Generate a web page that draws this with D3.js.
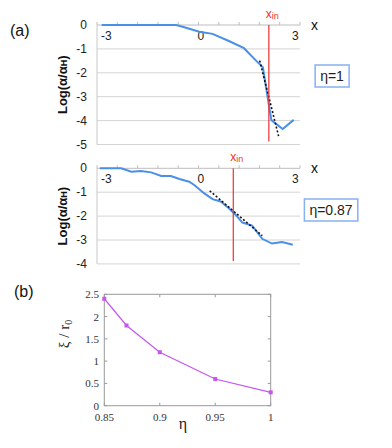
<!DOCTYPE html>
<html>
<head>
<meta charset="utf-8">
<script src="https://cdn.jsdelivr.net/npm/d3@7"></script>
<style>
  body { margin: 0; background: #fff; }
  svg { display: block; }
</style>
</head>
<body>
<div id="chart"></div>
<script>
// ---- data ----
// panel (a) upper: eta = 1
const curve1X = [-3.15, -2.4, -1.6, -0.79, -0.58, -0.05, 0.37, 0.89, 1.37, 1.73, 1.97, 2.1, 2.24, 2.6, 2.95];
const curve1Y = [0, 0, 0, 0, -0.07, -0.28, -0.37, -0.67, -0.97, -1.46, -1.77, -2.85, -3.98, -4.35, -3.97];
const fit1 = [[1.87, -1.49], [2.47, -4.65]];
const xin1 = 2.16;

// panel (a) lower: eta = 0.87
const curve2X = [-3.21, -2.53, -2.21, -1.9, -1.58, -1.26, -0.95, -0.68, -0.37, -0.21, 0.1, 0.37, 0.63, 0.89, 1.1, 1.32, 1.63, 1.95, 2.26, 2.58, 2.92];
const curve2Y = [0, 0, -0.14, -0.11, -0.17, -0.32, -0.32, -0.45, -0.56, -0.7, -1.04, -1.29, -1.39, -1.67, -1.94, -2.27, -2.4, -2.95, -3.15, -3.08, -3.2];
const fit2 = [[0.28, -0.94], [1.95, -2.82]];
const xin2 = 1.03;

const xTickLabels = [-3, 0, 3];

// panel (b)
const etaVals = [0.85, 0.87, 0.9, 0.95, 1];
const xiVals = [2.4, 1.8, 1.2, 0.6, 0.3];
const etaTicks = [0.85, 0.9, 0.95, 1];
const xiTicks = [0, 0.5, 1, 1.5, 2, 2.5];

const width = 392;
const height = 448;

const svg = d3.select('#chart').append('svg').attr('width', width).attr('height', height);

const sansFont = "'Liberation Sans', Arial, sans-serif";
const serifFont = "'Liberation Serif', 'Times New Roman', serif";
const blue = '#4a8fe8';

// ---- panel (a): two log plots ----
function drawLogPanel(opts) {
	const { top, yMin, xs, ys, fit, xin, tag } = opts;
	const x = d3.scaleLinear().domain([-3.3, 3.15]).range([97, 300]);
	const y = d3.scaleLinear().domain([yMin, 0]).range([top + (-yMin) * 23.9, top]);
	const g = svg.append('g');

	// grid lines
	g.selectAll('.grid')
		.data(d3.range(yMin, 0))
		.enter()
		.append('line')
		.attr('x1', x.range()[0])
		.attr('x2', x.range()[1])
		.attr('y1', (d) => y(d))
		.attr('y2', (d) => y(d))
		.attr('stroke', '#d4d4d4')
		.attr('stroke-width', 1);

	// left axis line
	g.append('line')
		.attr('x1', x.range()[0]).attr('x2', x.range()[0])
		.attr('y1', y(0)).attr('y2', y(yMin))
		.attr('stroke', '#c8c8c8');

	// x axis at y = 0 with small tick marks
	g.append('line')
		.attr('x1', x.range()[0]).attr('x2', x.range()[1])
		.attr('y1', y(0)).attr('y2', y(0))
		.attr('stroke', '#bdbdbd');
	const step = (x.domain()[1] - x.domain()[0]) / 10;
	g.selectAll('.tk')
		.data(d3.range(0, 11).map((i) => x.domain()[0] + i * step))
		.enter()
		.append('line')
		.attr('x1', (d) => x(d)).attr('x2', (d) => x(d))
		.attr('y1', y(0) - 3).attr('y2', y(0))
		.attr('stroke', '#bdbdbd');

	// x tick labels
	g.selectAll('.xl')
		.data(xTickLabels)
		.enter()
		.append('text')
		.attr('x', (d) => x(d))
		.attr('y', y(0) + 15)
		.attr('text-anchor', 'middle')
		.attr('font-family', sansFont)
		.attr('font-size', 12)
		.attr('fill', '#222')
		.text((d) => d);

	// y tick labels
	g.selectAll('.yl')
		.data(d3.range(yMin, 1))
		.enter()
		.append('text')
		.attr('x', 87)
		.attr('y', (d) => y(d) + 4)
		.attr('text-anchor', 'end')
		.attr('font-family', sansFont)
		.attr('font-size', 12)
		.attr('fill', '#222')
		.text((d) => d);

	// y axis title
	const yt = g.append('text')
		.attr('transform', `translate(67, ${(y(0) + y(yMin)) / 2}) rotate(-90)`)
		.attr('text-anchor', 'middle')
		.attr('font-family', sansFont)
		.attr('font-size', 13)
		.attr('font-weight', 'bold')
		.attr('fill', '#111');
	yt.append('tspan').text('Log(α/α');
	yt.append('tspan').attr('font-size', 9).text('H');
	yt.append('tspan').text(')');

	// "x" axis name
	g.append('text')
		.attr('x', 311)
		.attr('y', y(0) + 5)
		.attr('font-family', sansFont)
		.attr('font-size', 14)
		.attr('fill', '#111')
		.text('x');

	// data curve
	const line = d3.line().x((d) => x(d[0])).y((d) => y(d[1]));
	g.append('path')
		.datum(xs.map((v, i) => [v, ys[i]]))
		.attr('d', line)
		.attr('fill', 'none')
		.attr('stroke', blue)
		.attr('stroke-width', 2);

	// fitted dotted line
	g.append('path')
		.datum(fit)
		.attr('d', line)
		.attr('fill', 'none')
		.attr('stroke', '#111')
		.attr('stroke-width', 1.6)
		.attr('stroke-dasharray', '2,2');

	// x_in marker
	g.append('line')
		.attr('x1', x(xin)).attr('x2', x(xin))
		.attr('y1', y(0)).attr('y2', y(yMin) - 3)
		.attr('stroke', '#f03030')
		.attr('stroke-width', 1.2);
	const xl = g.append('text')
		.attr('x', x(xin) - 3)
		.attr('y', y(0) - 7)
		.attr('font-family', sansFont)
		.attr('font-size', 12)
		.attr('fill', '#f03030');
	xl.append('tspan').text('x');
	xl.append('tspan').attr('font-size', 9).attr('dy', 1).text('in');

	// eta tag box
	const tg = g.append('g');
	const tx = tg.append('text')
		.attr('x', tag.cx)
		.attr('y', tag.cy + 5)
		.attr('text-anchor', 'middle')
		.attr('font-family', sansFont)
		.attr('font-size', 14)
		.attr('fill', '#222')
		.text(tag.label);
	const bb = tx.node().getBBox();
	tg.insert('rect', 'text')
		.attr('x', bb.x - 5)
		.attr('y', tag.cy - 11)
		.attr('width', bb.width + 10)
		.attr('height', 22)
		.attr('fill', '#fff')
		.attr('stroke', '#86b2f0')
		.attr('stroke-width', 1.5);
}

drawLogPanel({ top: 25, yMin: -5, xs: curve1X, ys: curve1Y, fit: fit1, xin: xin1, tag: { cx: 332, cy: 76, label: 'η=1' } });
drawLogPanel({ top: 168.3, yMin: -4, xs: curve2X, ys: curve2Y, fit: fit2, xin: xin2, tag: { cx: 331, cy: 210, label: 'η=0.87' } });

// panel labels
svg.append('text').attr('x', 10).attr('y', 36).attr('font-family', sansFont).attr('font-size', 16).attr('fill', '#111').text('(a)');
svg.append('text').attr('x', 14).attr('y', 297).attr('font-family', sansFont).attr('font-size', 16).attr('fill', '#111').text('(b)');

// ---- panel (b): xi / r0 vs eta ----
const bx = d3.scaleLinear().domain([0.85, 1]).range([104.3, 270.7]);
const by = d3.scaleLinear().domain([0, 2.5]).range([405.7, 294.3]);
const gb = svg.append('g');
const frame = '#9a9a9a';

gb.append('rect')
	.attr('x', bx.range()[0])
	.attr('y', by.range()[1])
	.attr('width', bx.range()[1] - bx.range()[0])
	.attr('height', by.range()[0] - by.range()[1])
	.attr('fill', 'none')
	.attr('stroke', frame);

// inward ticks on all four sides
const tl = 3;
gb.selectAll('.ty')
	.data(xiTicks)
	.enter()
	.append('path')
	.attr('d', (d) => `M${bx.range()[0]},${by(d)}h${tl}M${bx.range()[1]},${by(d)}h${-tl}`)
	.attr('stroke', frame);
gb.selectAll('.tx')
	.data(etaTicks)
	.enter()
	.append('path')
	.attr('d', (d) => `M${bx(d)},${by.range()[0]}v${-tl}M${bx(d)},${by.range()[1]}v${tl}`)
	.attr('stroke', frame);

gb.selectAll('.yl')
	.data(xiTicks)
	.enter()
	.append('text')
	.attr('x', 99)
	.attr('y', (d) => by(d) + 4)
	.attr('text-anchor', 'end')
	.attr('font-family', serifFont)
	.attr('font-size', 11)
	.attr('fill', '#333')
	.text((d) => d);
gb.selectAll('.xl')
	.data(etaTicks)
	.enter()
	.append('text')
	.attr('x', (d) => bx(d))
	.attr('y', 421)
	.attr('text-anchor', 'middle')
	.attr('font-family', serifFont)
	.attr('font-size', 11)
	.attr('fill', '#333')
	.text((d) => d);

const purple = '#c655f2';
gb.append('path')
	.datum(etaVals.map((v, i) => [v, xiVals[i]]))
	.attr('d', d3.line().x((d) => bx(d[0])).y((d) => by(d[1])))
	.attr('fill', 'none')
	.attr('stroke', purple)
	.attr('stroke-width', 1.2);
gb.selectAll('.pt')
	.data(etaVals.map((v, i) => [v, xiVals[i]]))
	.enter()
	.append('rect')
	.attr('x', (d) => bx(d[0]) - 2)
	.attr('y', (d) => by(d[1]) - 2)
	.attr('width', 4)
	.attr('height', 4)
	.attr('fill', purple);

gb.append('text')
	.attr('x', 183)
	.attr('y', 429)
	.attr('text-anchor', 'middle')
	.attr('font-family', serifFont)
	.attr('font-size', 16)
	.attr('fill', '#222')
	.text('η');

const yb = gb.append('text')
	.attr('transform', 'translate(69, 334) rotate(-90)')
	.attr('text-anchor', 'middle')
	.attr('font-family', serifFont)
	.attr('font-size', 15)
	.attr('fill', '#222');
yb.append('tspan').text('ξ / r');
yb.append('tspan').attr('font-size', 10).attr('dy', 3).text('0');
</script>
</body>
</html>
